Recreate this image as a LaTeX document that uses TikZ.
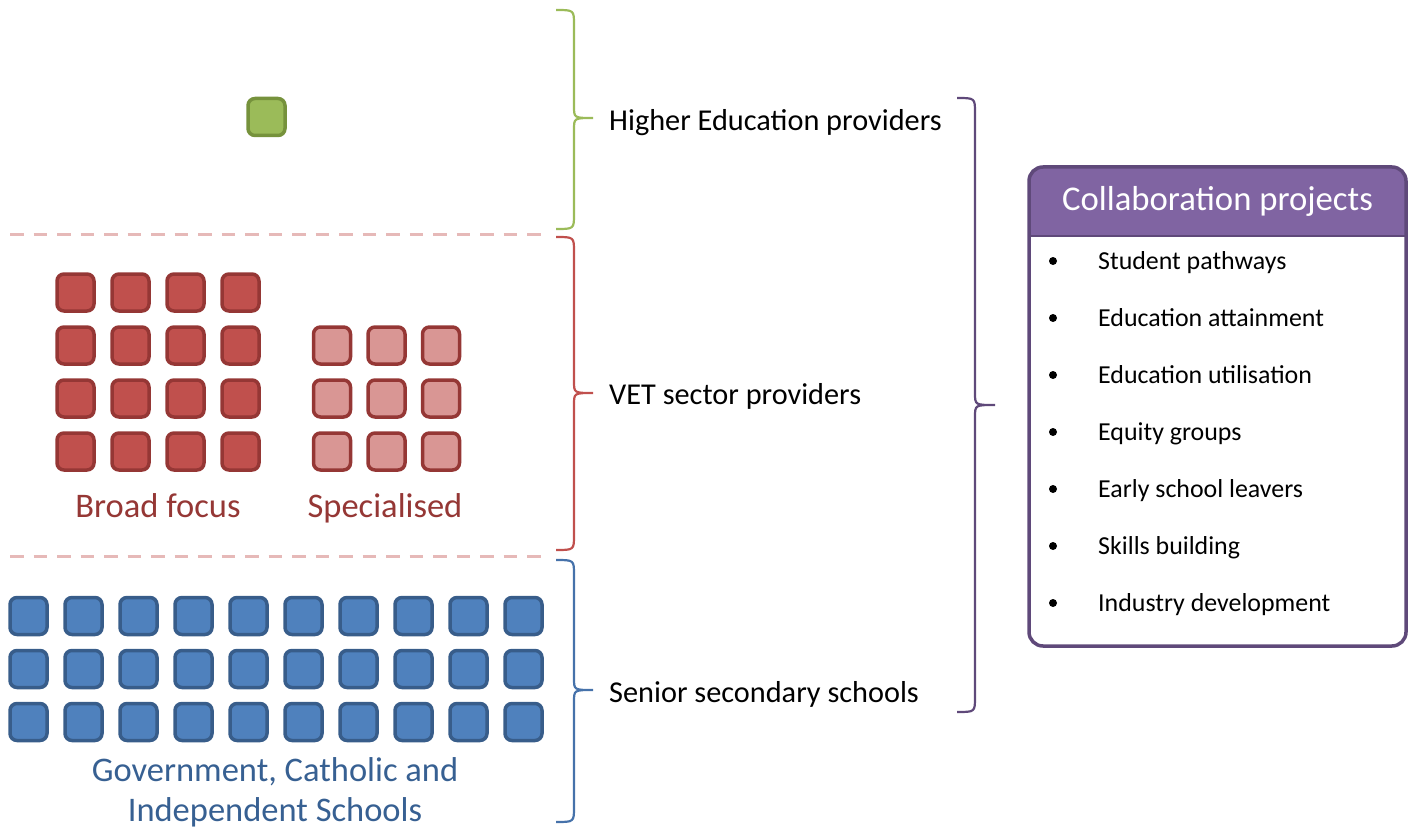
\documentclass[tikz,border=0pt]{standalone}
\usepackage{fontspec}
\setmainfont{Carlito}
\definecolor{hefill}{HTML}{9BBB59}
\definecolor{heline}{HTML}{76923C}
\definecolor{vetfill}{HTML}{C0504D}
\definecolor{vetline}{HTML}{953735}
\definecolor{spfill}{HTML}{D99694}
\definecolor{schfill}{HTML}{4F81BD}
\definecolor{schline}{HTML}{385D8A}
\definecolor{schbrace}{HTML}{4672AA}
\definecolor{schtext}{HTML}{376092}
\definecolor{dashcol}{HTML}{E6B9B8}
\definecolor{hdrfill}{HTML}{8064A2}
\definecolor{hdrline}{HTML}{5F497A}
\newcommand{\mybrace}[7]{%
  \draw[#1, line width=2.2pt] (#2,#5) .. controls (#3,#5) .. (#3,#5+15) -- (#3,#6-12)
    .. controls (#3,#6) .. (#4,#6) .. controls (#3,#6) .. (#3,#6+12) -- (#3,#7-15)
    .. controls (#3,#7) .. (#2,#7);}
\begin{document}
\begin{tikzpicture}[x=1pt,y=-1pt,
  sqbase/.style={draw, line width=3.5pt, rounded corners=7pt, minimum size=37pt, inner sep=0pt},
  hesq/.style={sqbase, fill=hefill, draw=heline},
  vetsq/.style={sqbase, fill=vetfill, draw=vetline},
  spsq/.style={sqbase, fill=spfill, draw=vetline},
  schsq/.style={sqbase, fill=schfill, draw=schline},
  grouptext/.style={font=\fontsize{34.5}{40}\selectfont, inner sep=0pt, anchor=base},
  label/.style={anchor=base west, inner sep=0pt, font=\fontsize{30.3}{36}\selectfont},
  item/.style={anchor=base west, inner sep=0pt, font=\fontsize{25.9}{30}\selectfont},
  dot/.style={circle, fill=black, minimum size=8pt, inner sep=0pt},
  sep/.style={draw=dashcol, line width=3pt, dash pattern=on 13.5pt off 10pt}
]
\useasboundingbox (0,0) rectangle (1410,829);

% separators
\coordinate (s1a) at (10,234); \coordinate (s1b) at (545,234);
\coordinate (s2a) at (10,556); \coordinate (s2b) at (545,556);
\draw[sep] (s1a) -- (s1b);
\draw[sep] (s2a) -- (s2b);

% higher education
\node[hesq] (he) at (266.5,117) {};

% VET broad focus
\foreach \c in {0,...,3}
  \foreach \r in {0,...,3}
    \node[vetsq] (b\c\r) at ({75.5+55*\c},{292.5+53*\r}) {};
% VET specialised
\foreach \c in {0,...,2}
  \foreach \r in {0,...,2}
    \node[spsq] (p\c\r) at ({332+54.5*\c},{345.5+53*\r}) {};
\node[grouptext, text=vetline] (broad) at (158,517) {Broad focus};
\node[grouptext, text=vetline] (spec) at (385,517) {Specialised};

% schools
\foreach \c in {0,...,9}
  \foreach \r in {0,...,2}
    \node[schsq] (s\c\r) at ({28.5+55*\c},{616+53*\r}) {};
\node[grouptext, text=schtext] (gov1) at (275,781) {Government, Catholic and};
\node[grouptext, text=schtext] (gov2) at (275,821) {Independent Schools};

% braces
\mybrace{hefill}{556}{574}{593}{10}{118}{229}
\mybrace{vetfill}{556}{574}{593}{237}{393}{550}
\mybrace{schbrace}{556}{574}{593}{560}{690}{822}
\mybrace{hdrline}{957}{975}{995}{98}{405}{712}

% labels
\node[label] (lhe) at (609,131) {Higher Education providers};
\node[label] (lvet) at (609,404) {VET sector providers};
\node[label] (lsch) at (609,702) {Senior secondary schools};

% collaboration box
\begin{scope}
  \clip (1000,150) rectangle (1410,236);
  \fill[hdrfill, rounded corners=14pt] (1029,167) rectangle (1406,646);
\end{scope}
\coordinate (hl) at (1029,236); \coordinate (hr) at (1406,236);
\draw[hdrline, line width=2pt] (hl) -- (hr);
\draw[hdrline, line width=3.5pt, rounded corners=14pt] (1029,167) rectangle (1406,646);
\node[text=white, inner sep=0pt, anchor=base, font=\fontsize{34.7}{40}\selectfont] (title) at (1217.5,211) {Collaboration projects};

\foreach \t [count=\i] in {Student pathways, Education attainment, Education utilisation, Equity groups, Early school leavers, Skills building, Industry development} {
  \node[dot] (d\i) at (1053,{261+57*(\i-1)}) {};
  \node[item] (i\i) at (1098,{269.5+57*(\i-1)}) {\t};
}
\end{tikzpicture}
\end{document}
